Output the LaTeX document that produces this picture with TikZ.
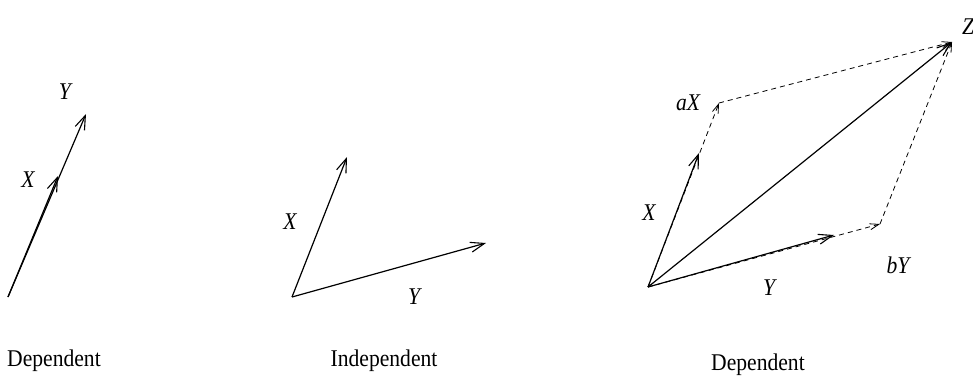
\documentclass[tikz,border=0pt]{standalone}
\usepackage{fontspec}
\setmainfont{Liberation Serif}[FakeStretch=0.9]
\usetikzlibrary{arrows.meta}
\begin{document}
\begin{tikzpicture}[x=1pt,y=-1pt,
  vec/.style={line width=1.2pt,-{Straight Barb[length=14pt,width=10pt,line width=1.1pt]}},
  dvec/.style={line width=0.8pt,dash pattern=on 5pt off 4pt,-{Straight Barb[length=9pt,width=6pt,line width=0.8pt]}},
  lab/.style={font=\fontsize{24}{28}\selectfont\itshape,inner sep=0pt},
  captxt/.style={font=\fontsize{24}{28}\selectfont,inner sep=0pt}]
\useasboundingbox (0,0) rectangle (973,380);
% Panel 1
\coordinate (o1) at (8,297);
\coordinate (x1) at (58,176);
\coordinate (y1) at (86,114);
\draw[vec] (o1) -- (x1);
\draw[vec] (o1) -- (y1);
\node[lab] (lx1) at (28,180) {X};
\node[lab] (ly1) at (65,92) {Y};
\node[captxt] (c1) at (54,361) {Dependent};
% Panel 2
\coordinate (o2) at (292,297);
\coordinate (x2) at (347,157);
\coordinate (y2) at (486,243);
\draw[vec] (o2) -- (x2);
\draw[vec] (o2) -- (y2);
\node[lab] (lx2) at (290,222) {X};
\node[lab] (ly2) at (414,297) {Y};
\node[captxt] (c2) at (384,361) {Independent};
% Panel 3
\coordinate (o3) at (648,287);
\coordinate (x3) at (699,153);
\coordinate (ax) at (719,103);
\coordinate (y3) at (834,235);
\coordinate (by) at (880,224);
\coordinate (z) at (952,42);
\draw[dvec] (o3) -- (ax);
\draw[dvec] (o3) -- (by);
\draw[vec] (o3) -- (x3);
\draw[vec] (o3) -- (y3);
\draw[vec] (o3) -- (z);
\draw[dvec] (ax) -- (z);
\draw[dvec] (by) -- (z);
\node[lab] (lax) at (688,103) {aX};
\node[lab] (lx3) at (649,213) {X};
\node[lab] (lz) at (968,27) {Z};
\node[lab] (lby) at (898,265) {bY};
\node[lab] (ly3) at (769,288) {Y};
\node[captxt] (c3) at (758,365) {Dependent};
\end{tikzpicture}
\end{document}
